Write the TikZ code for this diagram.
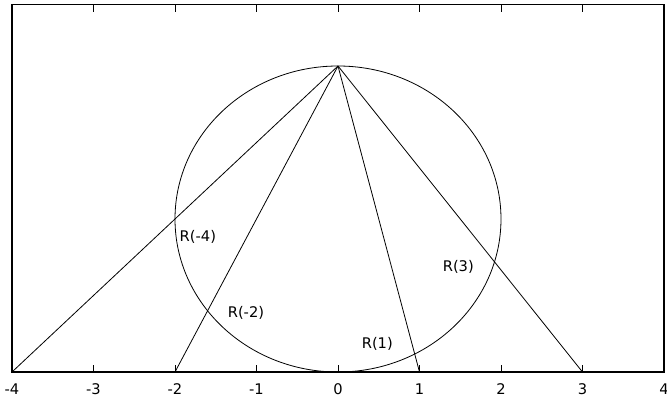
\documentclass[tikz,border=0pt]{standalone}
\usepackage{fontspec}
\setmainfont{DejaVu Sans}
\usepackage{tikz}
\usetikzlibrary{positioning}
\tikzset{
frame/.style={
draw,
line width=0.9pt
},
ray/.style={
line width=0.6pt
},
axistick/.style={
line width=0.6pt
},
ticklabel/.style={
anchor=base,
inner sep=0pt,
font=\fontsize{11}{13}\selectfont
},
pointlabel/.style={
anchor=base west,
inner sep=0pt,
font=\fontsize{11}{13}\selectfont
}
}

\begin{document}
\begin{tikzpicture}[x=61.125pt,y=57.375pt]
\useasboundingbox (-4.1472,-0.3791) rectangle (4.0368,4.8627);
\draw[frame](-4,0) rectangle (4,4.8);
\foreach \x in {-3,...,3}{
\draw[axistick](\x,0)--++(0,5.25pt);
\draw[axistick](\x,4.8)--++(0,-5.25pt);
}
\foreach \x/\n in {-4/ta,-3/tb,-2/tc,-1/td,0/te,1/tf,2/tg,3/th,4/ti}
\node[ticklabel](\n) at (\x,-0.30){\x};

\coordinate(ctr) at (0,2);
\draw[ray](ctr) circle [x radius=2,y radius=2];

\coordinate(top) at (0,4);
\coordinate(fa) at (-4,0);
\coordinate(fb) at (-2,0);
\coordinate(fc) at (1,0);
\coordinate(fd) at (3,0);
\foreach \x in {fa,fb,fc,fd}
\draw[ray](top)--(\x);

\node[pointlabel](la) at (-1.945,1.712){R(-4)};
\node[pointlabel](lb) at (-1.355,0.715){R(-2)};
\node[pointlabel](lc) at (0.289,0.310){R(1)};
\node[pointlabel](ld) at (1.283,1.311){R(3)};
\end{tikzpicture}
\end{document}
